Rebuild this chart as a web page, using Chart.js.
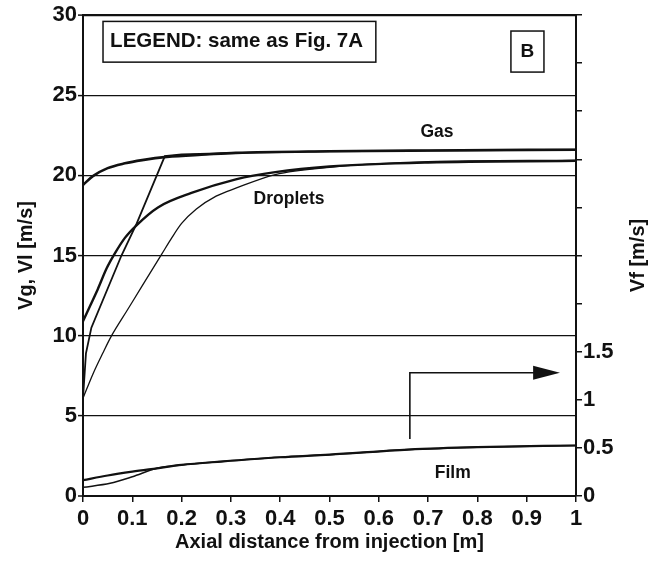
<!DOCTYPE html>
<html lang="en">
<head>
<meta charset="UTF-8">
<title>Velocities along the pipe - B</title>
<script src="https://cdn.jsdelivr.net/npm/chart.js"></script>
<style>
  body { margin:0; background:#fff; }
  #wrap { width:659px; height:561px; position:relative; }
</style>
</head>
<body>
<div id="wrap"><canvas id="velChart"></canvas></div>
<script>
// data (x = axial distance [m])
const gasThickX = [0, 0.02, 0.05, 0.085, 0.12, 0.17, 0.25, 0.31, 0.5, 0.7, 1];
const gasThickY = [19.4, 19.95, 20.45, 20.75, 20.95, 21.15, 21.3, 21.4, 21.5, 21.55, 21.6];

const gasThinX = [0, 0.006, 0.017, 0.078, 0.109, 0.166, 0.2, 0.31, 0.5, 1];
const gasThinY = [6.1, 8.9, 10.5, 15.0, 17.0, 21.2, 21.3, 21.4, 21.5, 21.6];

const dropThickX = [0, 0.015, 0.03, 0.048, 0.064, 0.085, 0.109, 0.152, 0.22, 0.31, 0.39, 0.5, 0.7, 1];
const dropThickY = [10.9, 11.9, 12.9, 14.2, 15.1, 16.1, 16.9, 18.0, 18.9, 19.75, 20.2, 20.55, 20.8, 20.9];

const dropThinX = [0, 0.02, 0.04, 0.058, 0.09, 0.12, 0.16, 0.18, 0.2, 0.23, 0.27, 0.31, 0.39, 0.5, 0.7, 1];
const dropThinY = [6.1, 7.6, 8.9, 10.0, 11.6, 13.1, 15.1, 16.1, 17.0, 17.9, 18.7, 19.2, 20.05, 20.5, 20.85, 20.95];

// film velocity, right axis Vf [m/s]
const filmThickX = [0, 0.05, 0.1, 0.15, 0.2, 0.28, 0.4, 0.5, 0.66, 0.8, 1];
const filmThickY = [0.165, 0.213, 0.253, 0.288, 0.323, 0.358, 0.403, 0.43, 0.483, 0.508, 0.525];

const filmThinX = [0, 0.055, 0.1, 0.15, 0.2, 0.28, 0.4, 0.5, 0.66, 0.8, 1];
const filmThinY = [0.09, 0.132, 0.2, 0.288, 0.323, 0.358, 0.403, 0.43, 0.483, 0.508, 0.525];

const xTicks = { min: 0, max: 1, step: 0.1 };
const yTicks = { min: 0, max: 30, step: 5 };
const vfTicks = { min: 0, max: 5, step: 0.5, lastLabel: 1.5 };

const FONT = "'Liberation Sans', Arial, sans-serif";
const INK = '#111';

function pts(xs, ys) {
  return xs.map((x, i) => ({ x: x, y: ys[i] }));
}

function line(label, xs, ys, width, axis, straight) {
  return {
    label: label,
    data: pts(xs, ys),
    yAxisID: axis || 'y',
    showLine: true,
    borderColor: INK,
    borderWidth: width,
    pointRadius: 0,
    cubicInterpolationMode: straight ? 'default' : 'monotone',
    tension: 0,
    fill: false
  };
}

// texts, boxes and the arrow drawn on top
const notes = {
  id: 'notes',
  afterDatasetsDraw(chart) {
    const { ctx, scales: { x, y }, chartArea } = chart;
    const px = v => x.getPixelForValue(v);
    const py = v => y.getPixelForValue(v);
    ctx.save();
    ctx.strokeStyle = INK;
    ctx.fillStyle = INK;

    // legend box
    ctx.lineWidth = 1.5;
    ctx.strokeRect(px(0.0406), py(29.6), px(0.594) - px(0.0406), py(27.06) - py(29.6));
    ctx.font = 'bold 20.5px ' + FONT;
    ctx.textBaseline = 'middle';
    ctx.textAlign = 'left';
    ctx.fillText('LEGEND: same as Fig. 7A', px(0.055), py(28.35));

    // panel letter
    ctx.strokeRect(px(0.868), py(29.0), px(0.935) - px(0.868), py(26.44) - py(29.0));
    ctx.font = 'bold 19px ' + FONT;
    ctx.textAlign = 'center';
    ctx.fillText('B', px(0.9015), py(27.7));

    // curve labels
    ctx.font = 'bold 17.5px ' + FONT;
    ctx.fillText('Gas', px(0.718), py(22.69));
    ctx.fillText('Droplets', px(0.418), py(18.5));
    ctx.fillText('Film', px(0.75), py(1.44));

    // arrow pointing to right axis
    ctx.lineWidth = 1.6;
    ctx.beginPath();
    ctx.moveTo(px(0.663), py(3.56));
    ctx.lineTo(px(0.663), py(7.69));
    ctx.lineTo(px(0.915), py(7.69));
    ctx.stroke();
    ctx.beginPath();
    ctx.moveTo(px(0.9675), py(7.69));
    ctx.lineTo(px(0.913), py(7.69) - 7);
    ctx.lineTo(px(0.913), py(7.69) + 7);
    ctx.closePath();
    ctx.fill();

    // right axis title, reads bottom to top
    ctx.font = 'bold 20px ' + FONT;
    ctx.translate(chartArea.right + 62, (chartArea.top + chartArea.bottom) / 2);
    ctx.rotate(-Math.PI / 2);
    ctx.fillText('Vf [m/s]', 0, 0);
    ctx.restore();
  }
};

const ctx = document.getElementById('velChart').getContext('2d');
new Chart(ctx, {
  type: 'scatter',
  data: {
    datasets: [
      line('Gas 1', gasThickX, gasThickY, 2.6),
      line('Gas 2', gasThinX, gasThinY, 1.8, 'y', true),
      line('Droplets 1', dropThickX, dropThickY, 2.4),
      line('Droplets 2', dropThinX, dropThinY, 1.3),
      line('Film 1', filmThickX, filmThickY, 2.2, 'y1'),
      line('Film 2', filmThinX, filmThinY, 1.5, 'y1')
    ]
  },
  options: {
    responsive: true,
    maintainAspectRatio: false,
    animation: false,
    layout: { padding: { top: 15, left: 0, right: 0, bottom: 0 } },
    plugins: { legend: { display: false }, tooltip: { enabled: false } },
    scales: {
      x: {
        type: 'linear',
        min: xTicks.min, max: xTicks.max,
        ticks: { stepSize: xTicks.step, color: INK, padding: 4, maxRotation: 0,
                 font: { family: FONT, size: 22, weight: 'bold' },
                 callback: v => String(Math.round(v * 10) / 10) },
        grid: { drawOnChartArea: false, drawTicks: true, tickLength: 6, color: INK, lineWidth: 1.5 },
        border: { display: true, color: INK, width: 2 },
        title: { display: true, text: 'Axial distance from injection [m]', color: INK,
                 font: { family: FONT, size: 20, weight: 'bold' }, padding: { top: 0, bottom: 7 } },
        afterFit: s => { s.height = 65; }
      },
      y: {
        position: 'left',
        min: yTicks.min, max: yTicks.max,
        ticks: { stepSize: yTicks.step, color: INK, padding: 1,
                 font: { family: FONT, size: 22, weight: 'bold' } },
        grid: {
          color: INK,
          lineWidth: c => (c.tick && c.tick.value === 30 ? 2.2 : (c.tick && c.tick.value === 0 ? 0 : 1.2)),
          tickWidth: 1.5,
          tickLength: 5,
          drawTicks: true
        },
        border: { display: true, color: INK, width: 2 },
        title: { display: true, text: 'Vg, Vl [m/s]', color: INK,
                 font: { family: FONT, size: 20, weight: 'bold' }, padding: { top: 14, bottom: 0 } },
        afterFit: s => { s.width = 83; }
      },
      y1: {
        position: 'right',
        min: vfTicks.min, max: vfTicks.max,
        ticks: { stepSize: vfTicks.step, color: INK, padding: 1,
                 font: { family: FONT, size: 22, weight: 'bold' },
                 callback: v => (v <= vfTicks.lastLabel ? String(v) : '') },
        grid: { drawOnChartArea: false, drawTicks: true, tickLength: 6, color: INK, lineWidth: 1.5 },
        border: { display: true, color: INK, width: 2 },
        afterFit: s => { s.width = 83; }
      }
    }
  },
  plugins: [notes]
});
</script>
</body>
</html>
